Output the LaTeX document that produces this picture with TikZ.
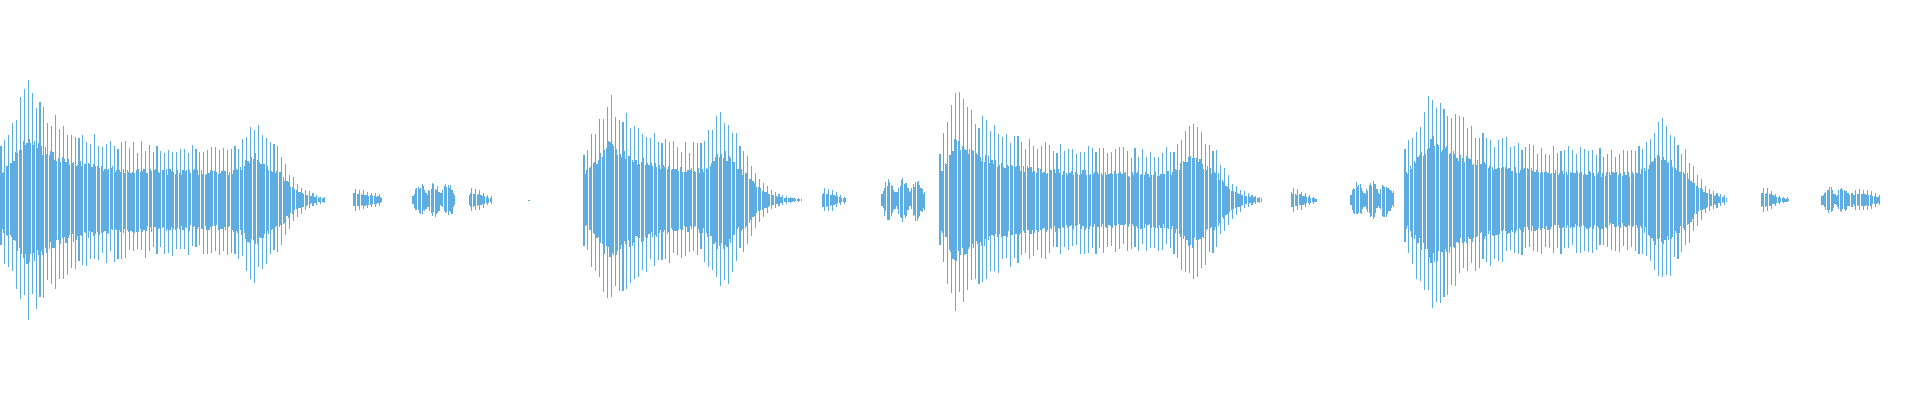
\documentclass[tikz,border=0pt]{standalone}
\definecolor{wave}{HTML}{5DACE2}
\tikzset{wv/.style={draw=wave,line width=1.1pt}}
\newcommand\wburst[7]{%
  \pgfmathtruncatemacro\wN{(#2-#1)/1.3}%
  \foreach \wi in {0,...,\wN}{%
    \pgfmathsetmacro\wx{#1+1.3*\wi}%
    \pgfmathsetmacro\wu{max(min((\wx-#3)/40,20),0)}%
    \pgfmathsetmacro\wg{min(abs(\wx-#6)/14,4.5)}%
    \pgfmathsetmacro\wv{max(min((\wx-#6-25)/16,20),0)}%
    \pgfmathsetmacro\wr{min(max((\wx-#1)/(#3-#1+0.01),0),1)}%
    \pgfmathsetmacro\wa{(\wx<#3)*(#5+(#4-#5)*\wr)+(\wx>=#3)*(#5+(#4-#5)*exp(-\wu))+#7*exp(-\wg*\wg)}%
    \pgfmathsetmacro\wa{\wa*exp(-\wv)}%
    \pgfmathsetmacro\wf{ifthenelse(mod(\wi,3)==0,1,0.55)}%
    \pgfmathsetmacro\wt{\wa*\wf*(0.8+0.2*rnd)}%
    \pgfmathsetmacro\wb{\wa*\wf*(0.8+0.2*rnd)}%
    \draw[wv] (\wx,200+\wt) -- (\wx,200-\wb);
  }}
\newcommand\wlobes[4]{%
  \pgfmathtruncatemacro\wN{(#2-#1)/1.3}%
  \foreach \wi in {0,...,\wN}{%
    \pgfmathsetmacro\wx{#1+1.3*\wi}%
    \pgfmathsetmacro\wa{#3*(0.35+0.65*abs(sin(180*(\wx-#1)/#4)))}%
    \pgfmathsetmacro\wt{\wa*(0.6+0.4*rnd)}%
    \pgfmathsetmacro\wb{\wa*(0.6+0.4*rnd)}%
    \draw[wv] (\wx,200+\wt) -- (\wx,200-\wb);
  }}
\begin{document}
\begin{tikzpicture}[x=1pt,y=1pt]
\pgfmathsetseed{7}
\useasboundingbox (0,0) rectangle (1920,400);
\wburst{1}{325}{28}{122}{55}{255}{30}
\wburst{352}{382}{353}{14}{0}{352}{0}
\wlobes{413}{455}{18}{14}
\wburst{468}{492}{470}{14}{0}{455}{0}
\draw[wv] (529,200.5) -- (529,199.5);
\wburst{584}{802}{610}{110}{50}{722}{40}
\wburst{821}{846}{822}{14}{0}{808}{0}
\wlobes{882}{926}{22}{14}
\wburst{940}{1262}{955}{118}{52}{1192}{35}
\wburst{1290}{1317}{1291}{14}{0}{1276}{0}
\wlobes{1351}{1395}{20}{14}
\wburst{1405}{1727}{1433}{120}{52}{1662}{35}
\wburst{1760}{1789}{1761}{14}{0}{1746}{0}
\wlobes{1822}{1850}{14}{14}
\wburst{1852}{1880}{1855}{12}{8}{1845}{0}
\end{tikzpicture}
\end{document}
